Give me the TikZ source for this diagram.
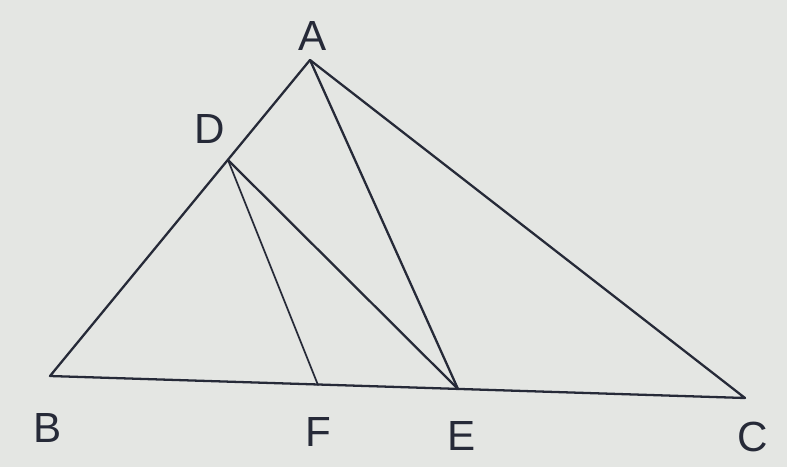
\documentclass[tikz,border=0pt]{standalone}
\usepackage{fontspec}
\setmainfont{Liberation Sans}
\begin{document}
\begin{tikzpicture}[x=0.02cm,y=-0.02cm,
  seg/.style={draw=linecol,line width=1.3pt,line join=round,line cap=round},
  lbl/.style={text=linecol,font=\fontsize{24}{24}\selectfont,inner sep=0pt}]
\definecolor{linecol}{HTML}{262a38}
\definecolor{bgcol}{HTML}{e4e6e3}
\fill[bgcol] (0,0) rectangle (787,467);
\useasboundingbox (0,0) rectangle (787,467);
\coordinate (A) at (310,60);
\coordinate (D) at (228,160);
\coordinate (B) at (50,376);
\coordinate (F) at (318,385);
\coordinate (E) at (458,389);
\coordinate (C) at (745,398);
\draw[seg] (A) -- (B) -- (C) -- cycle;
\draw[seg] (A) -- (E);
\draw[seg] (D) -- (E);
\draw[seg,line width=1pt] (D) -- (F);
\node[lbl] (lA) at (313,36) {A};
\node[lbl] (lD) at (210,129) {D};
\node[lbl] (lB) at (48,428) {B};
\node[lbl] (lF) at (318,432) {F};
\node[lbl] (lE) at (462,436) {E};
\node[lbl] (lC) at (753,437) {C};
\end{tikzpicture}
\end{document}
